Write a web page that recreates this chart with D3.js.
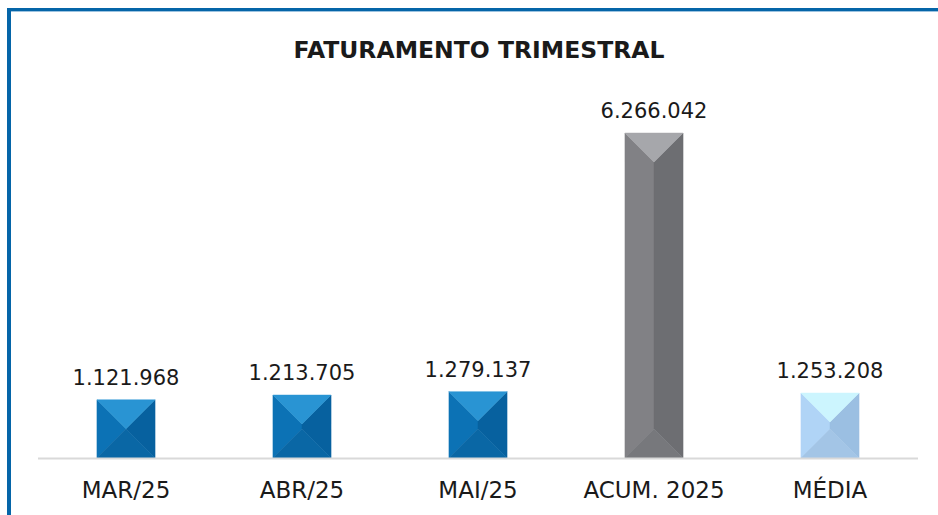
<!DOCTYPE html>
<html>
<head>
<meta charset="utf-8">
<title>Faturamento Trimestral</title>
<script src="https://cdn.jsdelivr.net/npm/d3@7"></script>
<style>
  body { margin: 0; background: #fff; }
  text { font-family: "DejaVu Sans", sans-serif; fill: #1a1a1a; }
</style>
</head>
<body>
<div id="chart"></div>
<script>
var categories = ["MAR/25", "ABR/25", "MAI/25", "ACUM. 2025", "MÉDIA"];
var values = [1121968, 1213705, 1279137, 6266042, 1253208];
var labels = ["1.121.968", "1.213.705", "1.279.137", "6.266.042", "1.253.208"];
var kinds = ["mes", "mes", "mes", "acum", "media"];

// bevel face colours: top, left, right, bottom
var palette = {
  mes:   ["#2994d3", "#0c72b5", "#07619f", "#0a67a5"],
  acum:  ["#a6a7ab", "#818185", "#6d6e72", "#77787c"],
  media: ["#ccf5fe", "#b0d4f6", "#9bbfe2", "#a3c5e6"]
};

var width = 938, height = 515;
var baseY = 458;

var svg = d3.select("#chart").append("svg")
    .attr("width", width)
    .attr("height", height);

// frame
svg.append("rect").attr("x", 7).attr("y", 8).attr("width", width).attr("height", 3).attr("fill", "#0565a8");
svg.append("rect").attr("x", 11).attr("y", 11).attr("width", width).attr("height", 1).attr("fill", "#9cc3e0");
svg.append("rect").attr("x", 7).attr("y", 8).attr("width", 4).attr("height", height).attr("fill", "#0565a8");

svg.append("text")
    .attr("x", 479)
    .attr("y", 58)
    .attr("text-anchor", "middle")
    .style("font-weight", "bold")
    .style("font-size", "23.5px")
    .text("FATURAMENTO TRIMESTRAL");

var x = d3.scaleBand()
    .domain(categories)
    .range([38, 918])
    .paddingInner(0.67)
    .paddingOuter(0.335);

var y = d3.scaleLinear()
    .domain([0, 7000000])
    .range([baseY, 95]);

var data = categories.map(function (c, i) {
  return { cat: c, v: values[i], label: labels[i], kind: kinds[i] };
});

var bars = svg.selectAll("g.bar")
    .data(data)
  .enter().append("g")
    .attr("class", "bar");

function faces(d) {
  var x0 = x(d.cat), w = x.bandwidth(), x1 = x0 + w;
  var y0 = y(d.v), y1 = baseY;
  var dep = Math.min(w / 2, (y1 - y0) / 2);
  var cx = x0 + w / 2;
  var top = [[x0, y0], [x1, y0], [cx, y0 + dep]];
  var left = [[x0, y0], [cx, y0 + dep], [cx, y1 - dep], [x0, y1]];
  var right = [[x1, y0], [x1, y1], [cx, y1 - dep], [cx, y0 + dep]];
  var bottom = [[x0, y1], [cx, y1 - dep], [x1, y1]];
  return [left, right, bottom, top];
}
var faceIdx = [1, 2, 3, 0];

bars.each(function (d) {
  var g = d3.select(this);
  faces(d).forEach(function (pts, k) {
    g.append("polygon")
        .attr("points", pts.map(function (p) { return p.join(","); }).join(" "))
        .attr("fill", palette[d.kind][faceIdx[k]])
        .attr("stroke", palette[d.kind][faceIdx[k]])
        .attr("stroke-width", 0.5);
  });
});

bars.append("text")
    .attr("x", function (d) { return x(d.cat) + x.bandwidth() / 2; })
    .attr("y", function (d) { return y(d.v) - 15; })
    .attr("text-anchor", "middle")
    .style("font-size", "21px")
    .text(function (d) { return d.label; });

// baseline
svg.append("line")
    .attr("x1", 38).attr("x2", 918)
    .attr("y1", baseY + 0.5).attr("y2", baseY + 0.5)
    .attr("stroke", "#d9d9d9")
    .attr("stroke-width", 2);

svg.append("g")
    .selectAll("text")
    .data(categories)
  .enter().append("text")
    .attr("x", function (d) { return x(d) + x.bandwidth() / 2; })
    .attr("y", 498)
    .attr("text-anchor", "middle")
    .style("font-size", "23px")
    .text(function (d) { return d; });
</script>
</body>
</html>
